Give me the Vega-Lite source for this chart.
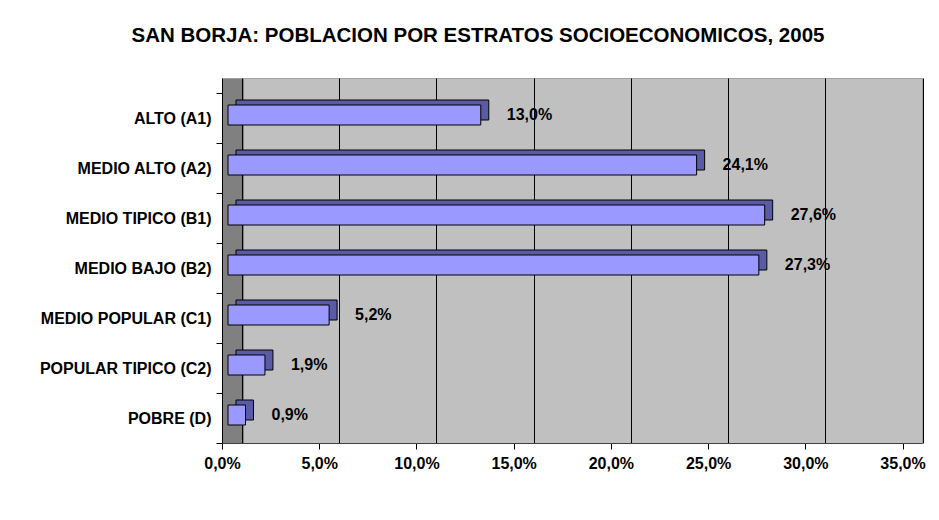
{
  "$schema": "https://vega.github.io/schema/vega-lite/v6.json",
  "width": 700,
  "height": 365,
  "autosize": "none",
  "padding": {"left": 222, "right": 17, "top": 78, "bottom": 77},
  "background": "white",
  "title": {
    "text": "SAN BORJA: POBLACION POR ESTRATOS SOCIOECONOMICOS, 2005",
    "font": "Liberation Sans",
    "fontSize": 20.5,
    "fontWeight": "bold",
    "color": "black",
    "anchor": "middle",
    "frame": "group",
    "dx": -94,
    "offset": 8,
    "baseline": "alphabetic"
  },
  "data": {
    "values": [
      {"estrato": "ALTO (A1)", "pct": 0.130},
      {"estrato": "MEDIO ALTO (A2)", "pct": 0.241},
      {"estrato": "MEDIO TIPICO (B1)", "pct": 0.276},
      {"estrato": "MEDIO BAJO (B2)", "pct": 0.273},
      {"estrato": "MEDIO POPULAR (C1)", "pct": 0.052},
      {"estrato": "POPULAR TIPICO (C2)", "pct": 0.019},
      {"estrato": "POBRE (D)", "pct": 0.009}
    ]
  },
  "encoding": {
    "y": {
      "field": "estrato",
      "type": "nominal",
      "sort": null,
      "scale": {"paddingInner": 0, "paddingOuter": 0.15, "align": 1},
      "axis": {
        "title": null,
        "tickBand": "extent",
        "tickSize": 6,
        "tickColor": "black",
        "domainColor": "black",
        "labelPadding": 5,
        "labelFont": "Liberation Sans",
        "labelFontSize": 16,
        "labelFontWeight": "bold",
        "labelColor": "black",
        "grid": false
      }
    }
  },
  "layer": [
    {
      "mark": {"type": "bar", "height": 20, "xOffset": 14, "yOffset": -8, "color": "#5A5AA6", "stroke": "black", "strokeWidth": 1},
      "encoding": {
        "x": {
          "field": "pct",
          "type": "quantitative",
          "scale": {"domain": [0, 0.36], "nice": false, "zero": true},
          "axis": {
            "orient": "bottom",
            "values": [0, 0.05, 0.1, 0.15, 0.2, 0.25, 0.3, 0.35],
            "grid": true,
            "gridColor": "black",
            "gridWidth": 1,
            "tickOffset": 20,
            "labels": false,
            "ticks": false,
            "domain": false,
            "title": null,
            "zindex": 0
          }
        }
      }
    },
    {
      "mark": {"type": "bar", "height": 20, "xOffset": 6, "yOffset": -3, "color": "#9999FF", "stroke": "black", "strokeWidth": 1},
      "encoding": {
        "x": {
          "field": "pct",
          "type": "quantitative",
          "scale": {"domain": [0, 0.36], "nice": false, "zero": true},
          "axis": {
            "orient": "bottom",
            "values": [0, 0.05, 0.1, 0.15, 0.2, 0.25, 0.3, 0.35],
            "format": ".1%",
            "grid": false,
            "tickSize": 6,
            "tickColor": "black",
            "domainColor": "#404040",
            "labelPadding": 6,
            "labelFont": "Liberation Sans",
            "labelFontSize": 16,
            "labelFontWeight": "bold",
            "labelColor": "black",
            "labelFlush": false,
            "title": null,
            "zindex": 1
          }
        }
      }
    },
    {
      "mark": {"type": "text", "align": "left", "baseline": "middle", "dx": 32, "dy": -3, "font": "Liberation Sans", "fontSize": 16, "fontWeight": "bold", "color": "black"},
      "encoding": {
        "x": {"field": "pct", "type": "quantitative", "scale": {"domain": [0, 0.36], "nice": false, "zero": true}, "axis": null},
        "text": {"field": "pct", "type": "quantitative", "format": ".1%"}
      }
    }
  ],
  "resolve": {"axis": {"x": "independent"}},
  "config": {
    "locale": {"number": {"decimal": ",", "thousands": ".", "grouping": [3], "currency": ["", " €"]}},
    "view": {
      "stroke": "#A0A0A0",
      "fill": {
        "gradient": "linear",
        "x1": 0, "y1": 0, "x2": 1, "y2": 0,
        "stops": [
          {"offset": 0, "color": "#808080"},
          {"offset": 0.031, "color": "#808080"},
          {"offset": 0.031, "color": "#C0C0C0"},
          {"offset": 1, "color": "#C0C0C0"}
        ]
      }
    }
  }
}
